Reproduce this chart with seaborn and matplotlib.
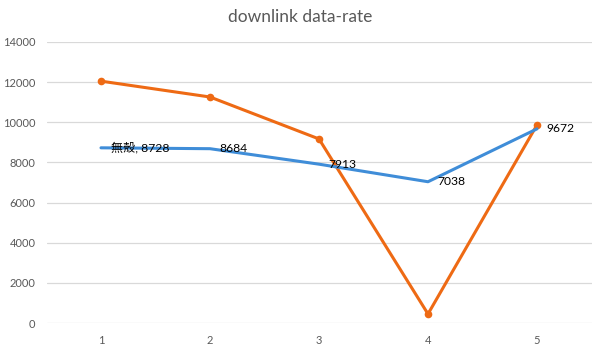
import pandas as pd
import matplotlib.pyplot as plt
import seaborn as sns

# данные
points = [1, 2, 3, 4, 5]
blue_vals = [8728, 8684, 7913, 7038, 9672]
orange_vals = [12050, 11260, 9170, 450, 9870]
first_label = '無殼'

BLUE = '#3F8DD8'
ORANGE = '#EE6A14'
GRID = '#D9D9D9'
TXT = '#595959'

sns.set_theme(style='white')
plt.rcParams['font.family'] = ['Lato', 'Noto Sans CJK JP', 'DejaVu Sans']

df = pd.DataFrame({'x': points, 'blue': blue_vals, 'orange': orange_vals})

fig = plt.figure(figsize=(6, 3.52), dpi=100)
ax = fig.add_axes([46.5 / 600, 29 / 352, 545 / 600, 281 / 352])

sns.lineplot(data=df, x='x', y='orange', color=ORANGE, lw=2.2,
             marker='o', markersize=5.5, markeredgewidth=0, ax=ax, zorder=3)
sns.lineplot(data=df, x='x', y='blue', color=BLUE, lw=2.2, ax=ax, zorder=4)

for i, (x, v) in enumerate(zip(points, blue_vals)):
    lab = f'{first_label}, {v}' if i == 0 else f'{v}'
    ax.annotate(lab, (x, v), xytext=(7, 0), textcoords='offset points',
                ha='left', va='center', fontsize=8.7, color='black', zorder=5)

ax.set_xlim(0.5, 5.5)
ax.set_ylim(0, 14000)
ax.set_yticks(range(0, 14001, 2000))
ax.set_xticks(points)
ax.grid(axis='y', color=GRID, lw=0.9)
ax.set_axisbelow(True)
for s in ax.spines.values():
    s.set_visible(False)
ax.tick_params(axis='both', length=0, labelsize=8, labelcolor=TXT)
ax.tick_params(axis='x', pad=9)
ax.tick_params(axis='y', pad=8)
ax.set_xlabel('')
ax.set_ylabel('')
fig.text(0.5, 1 - 17 / 352, 'downlink data-rate', ha='center', va='center',
         fontsize=12.5, color=TXT)

fig.savefig('out.png', dpi=100)
plt.close()
